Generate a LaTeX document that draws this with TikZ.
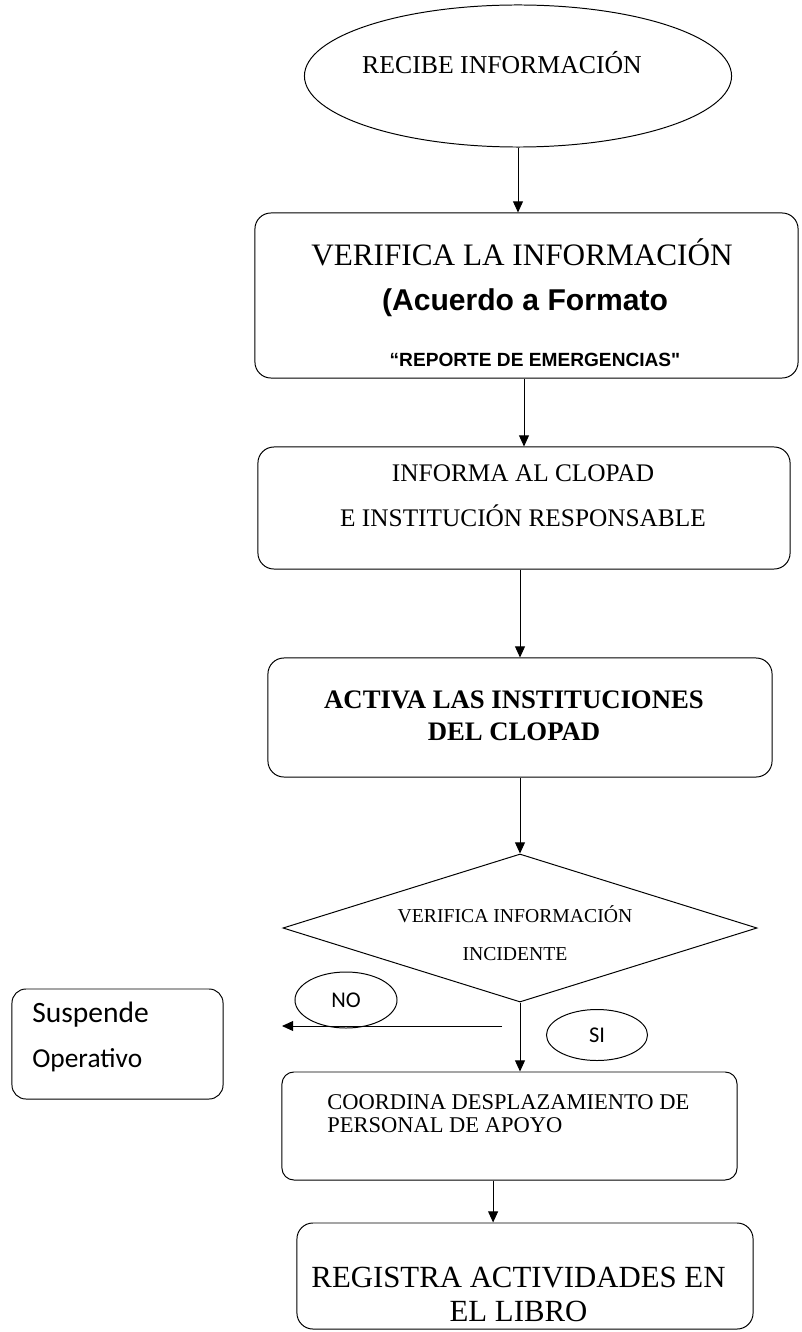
\documentclass[tikz,border=0pt]{standalone}
\usepackage{fontspec}
\setmainfont{Liberation Serif}
\newfontfamily\arialfont{Liberation Sans}
\newfontfamily\calfont{Carlito}
\usetikzlibrary{arrows.meta,shapes.geometric}

\begin{document}
\begin{tikzpicture}[x=0.025cm, y=-0.025cm,
  term/.style={draw, ellipse, line width=0.7pt, inner sep=0pt},
  proc/.style={draw, rounded corners=0.4cm, line width=0.7pt, inner sep=0pt},
  dec/.style={draw, diamond, line width=0.7pt, inner sep=0pt},
  tag/.style={draw, ellipse, line width=0.7pt, inner sep=0pt, font=\calfont\fontsize{16}{18}\selectfont},
  txt/.style={align=center, inner sep=0pt},
  arr/.style={-{Triangle[length=2.8mm,width=2.5mm]}, line width=0.7pt}
]
  \useasboundingbox (0,0) rectangle (801,1332);

  % main column
  \node[term, minimum width=10.675cm, minimum height=3.55cm] (recibe) at (518,76) {};
  \node[proc, minimum width=13.575cm, minimum height=4.125cm] (verif) at (526.5,295.5) {};
  \node[proc, minimum width=13.3cm, minimum height=3.05cm] (informa) at (524,508) {};
  \node[proc, minimum width=12.6cm, minimum height=2.975cm] (activa) at (520,717.5) {};
  \node[dec, minimum width=11.85cm, minimum height=3.7cm] (decide) at (520,928) {};
  \node[proc, rounded corners=0.3cm, minimum width=11.375cm, minimum height=2.7cm] (coordina) at (509.5,1126) {};
  \node[proc, minimum width=11.4cm, minimum height=2.65cm] (registra) at (525,1276) {};

  % branch labels and side box
  \node[tag, minimum width=2.55cm, minimum height=1.4cm] (no) at (346,1000) {NO};
  \node[tag, minimum width=2.525cm, minimum height=1.275cm] (si) at (597,1035) {SI};
  \node[proc, rounded corners=0.35cm, minimum width=5.275cm, minimum height=2.75cm] (suspende) at (117.5,1044) {};

  % texts
  \node[txt, font=\fontsize{18.3}{20}\selectfont] (recibeTxt) at (502,63) {RECIBE INFORMACIÓN};
  \node[txt, font=\fontsize{22.2}{24}\selectfont] (verifTitle) at (522,252) {VERIFICA LA INFORMACIÓN};
  \node[txt, font=\arialfont\bfseries\fontsize{21.4}{23}\selectfont] (verifSub) at (525,303) {(Acuerdo a Formato};
  \node[txt, font=\arialfont\bfseries\fontsize{13.6}{15}\selectfont] (verifForm) at (535,360) {“REPORTE DE EMERGENCIAS"};
  \node[txt, font=\fontsize{18}{32}\selectfont] (informaTxt) at (523,495.5) {INFORMA AL CLOPAD\\E INSTITUCIÓN RESPONSABLE};
  \node[txt, font=\bfseries\fontsize{19}{22.8}\selectfont] (activaTxt) at (514,716) {ACTIVA LAS INSTITUCIONES\\DEL CLOPAD};
  \node[txt, font=\fontsize{14}{27}\selectfont] (decideTxt) at (515,933) {VERIFICA INFORMACIÓN\\INCIDENTE};
  \node[txt, align=left, anchor=west, font=\fontsize{16}{16.4}\selectfont] (coordinaTxt) at (327,1113.5) {COORDINA DESPLAZAMIENTO DE\\PERSONAL DE APOYO};
  \node[txt, font=\fontsize{21.9}{24.2}\selectfont] (registraTxt) at (518.5,1294) {REGISTRA ACTIVIDADES EN\\EL LIBRO};
  \node[txt, anchor=west, font=\calfont\fontsize{21}{23}\selectfont] (suspTop) at (32,1015) {Suspende};
  \node[txt, anchor=west, font=\calfont\fontsize{19.5}{21}\selectfont] (suspBot) at (32,1060) {Operativo};

  % connectors
  \draw[arr] (recibe.south) -- (recibe.south |- verif.north);
  \draw[arr] (informa.north |- verif.south) -- (informa.north);
  \draw[arr] (activa.north |- informa.south) -- (activa.north);
  \draw[arr] (activa.south) -- (decide.north);
  \draw[arr] (decide.south) -- (decide.south |- coordina.north);
  \coordinate (noStart) at (502,1026);
  \coordinate (noEnd) at (282,1026);
  \draw[arr] (noStart) -- (noEnd);
  \coordinate (cTail) at ([xshift=-0.41cm]coordina.south);
  \draw[arr] (cTail) -- (cTail |- registra.north);
\end{tikzpicture}
\end{document}
